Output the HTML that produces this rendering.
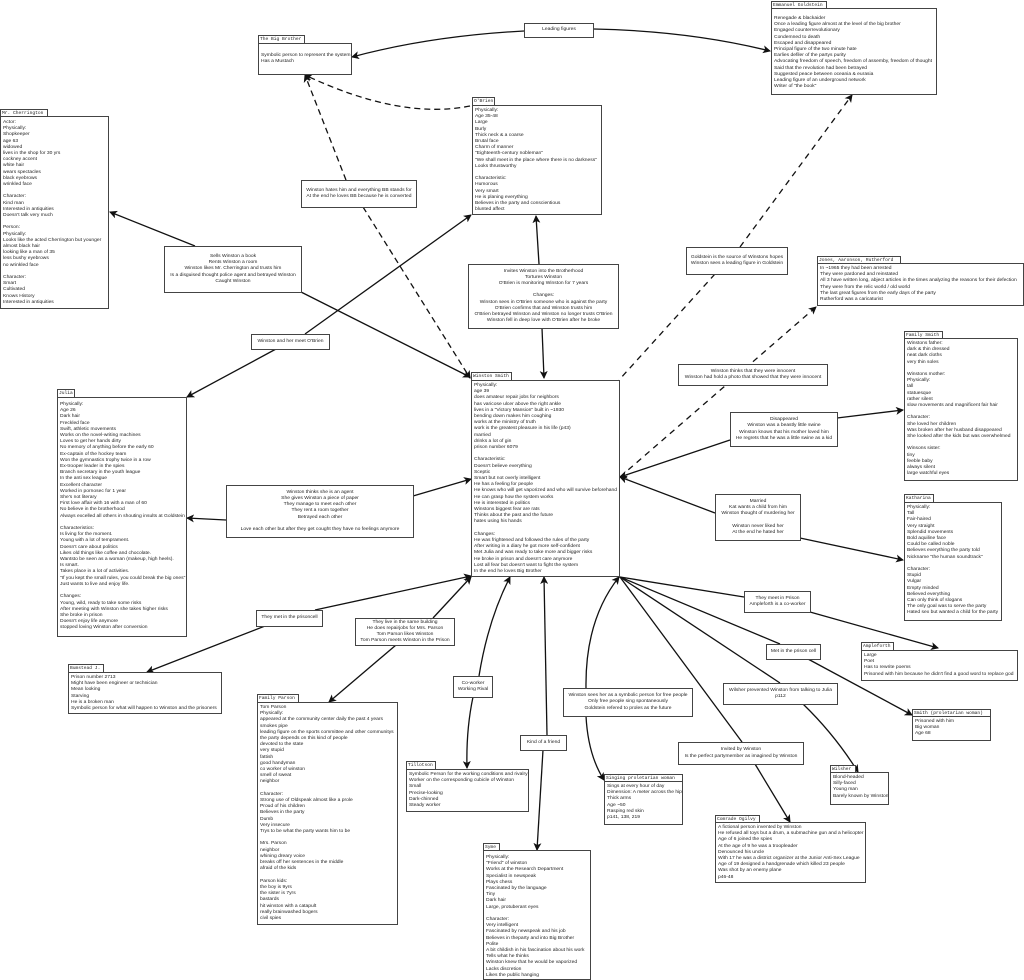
<!DOCTYPE html>
<html><head><meta charset="utf-8"><style>
html,body{margin:0;padding:0;background:#fff;}
body{width:1024px;height:980px;position:relative;overflow:hidden;font-family:"Liberation Sans",sans-serif;color:#222;}
.b{position:absolute;border:1px solid #444;background:#fff;font-size:4.95px;line-height:6.2px;padding:2px 1px 0 2px;box-sizing:border-box;white-space:pre;overflow:hidden;}
.t{position:absolute;border:1px solid #444;border-bottom:none;background:#fff;font-family:"Liberation Mono",monospace;font-size:4.6px;line-height:7px;padding:0 1px;box-sizing:border-box;white-space:pre;overflow:hidden;}
.l{position:absolute;border:1px solid #444;background:#fff;font-size:4.95px;line-height:6.2px;text-align:center;box-sizing:border-box;white-space:pre;display:flex;align-items:center;justify-content:center;}
svg{position:absolute;left:0;top:0;}
</style></head><body>
<svg width="1024" height="980" viewBox="0 0 1024 980">
<defs><marker id="a" markerWidth="8" markerHeight="8" refX="7" refY="4" orient="auto" markerUnits="userSpaceOnUse"><path d="M0,0 L8,4 L0,8 L2,4 z" fill="#111"/></marker></defs>
<g fill="none" stroke="#111" stroke-width="1.3">
<path d="M524,31 Q430,36 352,57" marker-end="url(#a)"/>
<path d="M594,29 Q690,31 770,51" marker-end="url(#a)"/>
<path d="M470,106 Q400,120 305,75" stroke-dasharray="6,4" marker-end="url(#a)"/>
<path d="M346,180 L305,75" stroke-dasharray="6,4" marker-end="url(#a)"/>
<path d="M363,207 L470,378" stroke-dasharray="6,4" marker-end="url(#a)"/>
<path d="M195,246 L110,212" marker-end="url(#a)"/>
<path d="M301,292 L470,377" marker-end="url(#a)"/>
<path d="M305,334 L471,215" marker-end="url(#a)"/>
<path d="M276,349 L187,397" marker-end="url(#a)"/>
<path d="M539,264 L536,216" marker-end="url(#a)"/>
<path d="M542,328 L544,378" marker-end="url(#a)"/>
<path d="M740,247 L852,95" stroke-dasharray="6,5" marker-end="url(#a)"/>
<path d="M715,274 L619,380" stroke-dasharray="6,5"/>
<path d="M620,477 L816,307" stroke-dasharray="6,5" marker-end="url(#a)"/>
<path d="M837,418 L903,410" marker-end="url(#a)"/>
<path d="M730,440 L620,477" marker-end="url(#a)"/>
<path d="M715,513 L620,477" marker-end="url(#a)"/>
<path d="M800,538 L903,560" marker-end="url(#a)"/>
<path d="M226,520 L187,518" marker-end="url(#a)"/>
<path d="M413,496 L471,479" marker-end="url(#a)"/>
<path d="M315,610 L471,576" marker-end="url(#a)"/>
<path d="M265,626 L147,672" marker-end="url(#a)"/>
<path d="M433,618 L471,577" marker-end="url(#a)"/>
<path d="M396,645 L329,702" marker-end="url(#a)"/>
<path d="M479,676 Q488,620 510,577" marker-end="url(#a)"/>
<path d="M473,697 Q466,730 467,768" marker-end="url(#a)"/>
<path d="M547,735 L544,577" marker-end="url(#a)"/>
<path d="M543,750 L537,850" marker-end="url(#a)"/>
<path d="M586,688 Q585,620 619,577" marker-end="url(#a)"/>
<path d="M586,716 Q588,755 604,780" marker-end="url(#a)"/>
<path d="M742,742 L620,577"/>
<path d="M755,764 L790,822" marker-end="url(#a)"/>
<path d="M780,683 L620,577"/>
<path d="M803,704 Q835,735 858,772" marker-end="url(#a)"/>
<path d="M780,644 L620,577"/>
<path d="M808,659 L912,715" marker-end="url(#a)"/>
<path d="M744,597 L620,577"/>
<path d="M810,612 L938,648" marker-end="url(#a)"/>
</g></svg>

<div class="t" style="left:258px;top:35px;width:47px;height:8px">The Big Brother</div>
<div class="b" style="left:258px;top:43px;width:94px;height:32px;padding-top:9px">Symbolic person to represent the system
Has a Mustach</div>

<div class="l" style="left:524px;top:23px;width:70px;height:15px">Leading figures</div>

<div class="t" style="left:771px;top:1px;width:56px;height:8px">Emmanuel Goldstein</div>
<div class="b" style="left:771px;top:8px;width:166px;height:87px;padding-top:7px">Renegade &amp; blackaider
Once a leading figure almost at the level of the big brother
Engaged counterrevolutionary
Condemned to death
Escaped and disappeared
Principal figure of the two minute hate
Earlies defiler of the partys purity
Advocating freedom of speech, freedom of assemby, freedom of thought
Said that the revolution had been betrayed
Suggested peace between oceania &amp; eurasia
Leading figure of an underground network
Writer of "the book"</div>

<div class="t" style="left:472px;top:97px;width:23px;height:8px">O'Brien</div>
<div class="b" style="left:472px;top:105px;width:130px;height:110px">Physically:
Age 35-48
Large
Burly
Thick neck &amp; a coarse
Brutal face
Charm of manner
"Eighteenth-century nobleman"
"We shall meet in the place where there is no darkness"
Looks thrustworthy

Characteristic:
Humorous
Very smart
He is planing everything
Believes in the party and conscientious
blunted affect</div>

<div class="t" style="left:0px;top:109px;width:48px;height:8px">Mr. Cherrington</div>
<div class="b" style="left:0px;top:116px;width:109px;height:193px;padding-top:3px">Actor:
Physically:
Shopkeeper
age 63
widowed
lives in the shop for 30 yrs
cockney accent
white hair
wears spectacles
black eyebrows
wrinkled face

Character:
Kind man
Interested in antiquities
Doesn't talk very much

Person:
Physically:
Looks like the acted Cherrington but younger
almost black hair
looking like a man of 35
less bushy eyebrows
no wrinkled face

Character:
Smart
Cultivated
Knows History
Interested in antiquities</div>

<div class="l" style="left:301px;top:180px;width:116px;height:28px">Winston hates him and everything BB stands for
At the end he loves BB because he is converted</div>

<div class="l" style="left:164px;top:246px;width:138px;height:47px">Sells Winston a book
Rents Winston a room
Winston likes Mr. Cherrington and trusts him
Is a disguised thought police agent and betrayed Winston
Caught Winston</div>

<div class="l" style="left:468px;top:264px;width:151px;height:65px">Invites Winston into the Brotherhood
Tortures Winston
O'Brien is monitoring Winston for 7 years

Changes:
Winston sees in O'Brien someone who is against the party
O'Brien confirms that and Winston trusts him
O'Brien betrayed Winston and Winston no longer trusts O'Brien
Winston fell in deep love with O'Brien after he broke</div>

<div class="l" style="left:686px;top:247px;width:102px;height:28px">Goldstein is the source of Winstons hopes
Winston sees a leading figure in Goldstein</div>

<div class="t" style="left:817px;top:256px;width:84px;height:8px">Jones, Aaronson, Rutherford</div>
<div class="b" style="left:817px;top:263px;width:207px;height:43px">In ~1965 they had been arrested
They were pardoned and reinstated
All 3 have written long, abject articles in the times analyzing the reasons for their defection
They were from the relic world / old world
The last great figures from the early days of the party
Rutherford was a caricaturist</div>

<div class="l" style="left:251px;top:334px;width:79px;height:16px">Winston and her meet O'Brien</div>

<div class="t" style="left:57px;top:389px;width:18px;height:9px">Julia</div>
<div class="b" style="left:57px;top:397px;width:130px;height:240px;padding-top:4px">Physically:
Age 26
Dark hair
Freckled face
Swift, athletic movements
Works on the novel-writing machines
Loves to get her hands dirty
No memory of anything before the early 60
Ex-captain of the hockey team
Won the gymnastics trophy twice in a row
Ex-trooper leader in the spies
Branch secretary in the youth league
In the anti sex league
Excellent character
Worked in pornosec for 1 year
She's not literary
First love affair with 16 with a man of 60
No believe in the brotherhood
Always excelled all others in shouting insults at Goldstein

Characteristics:
Is living for the moment.
Young with a lot of temprament.
Doesn't care about politics
Likes old things like coffee and chocolate.
Wantsto be seen as a woman (makeup, high heels).
Is smart.
Takes place in a lot of activities.
"If you kept the small rules, you could break the big ones"
Just wants to live and enjoy life.

Changes:
Young, wild, ready to take some risks
After meeting with Winston she takes higher risks
She broke in prison
Doesn't enjoy life anymore
stopped loving Winston after conversion</div>

<div class="t" style="left:471px;top:372px;width:41px;height:9px">Winston Smith</div>
<div class="b" style="left:471px;top:380px;width:149px;height:197px">Physically:
age 39
does amateur repair jobs for neighbors
has varicose ulcer above the right ankle
lives in a "Victory Mansion" built in ~1930
bending down makes him coughing
works at the ministry of truth
work is the greatest pleasure in his life (p43)
married
drinks a lot of gin
prison number 6079

Characteristic:
Doesn't believe everything
Sceptic
Smart but not overly intelligent
He has a feeling for people
He knows who will get vaporized and who will survive beforehand
He can grasp how the system works
He is interested in politics
Winstons biggest fear are rats
Thinks about the past and the future
hates using his hands

Changes:
He was frightened and followed the rules of the party
After writing in a diary he got more self-confident
Met Julia and was ready to take more and bigger risks
He broke in prison and doesn't care anymore
Lost all fear but doesn't want to fight the system
In the end he loves Big Brother</div>

<div class="l" style="left:678px;top:364px;width:150px;height:22px">Winston thinks that they were innocent
Winston had hold a photo that showed that they were innocent</div>

<div class="t" style="left:904px;top:331px;width:39px;height:8px">Family Smith</div>
<div class="b" style="left:904px;top:338px;width:114px;height:143px">Winstons father:
dark &amp; thin dressed
neat dark cloths
very thin soles

Winstons mother:
Physically:
tall
statuesque
rather silent
slow movements and magnificent fair hair

Character:
She loved her children
Was broken after her husband disappeared
She looked after the kids but was overwhelmed

Winsons sister:
tiny
feeble baby
always silent
large watchful eyes</div>

<div class="l" style="left:730px;top:412px;width:108px;height:35px">Disappeared
Winston was a beastly little swine
Winston knows that his mother loved him
He regrets that he was a little swine as a kid</div>

<div class="l" style="left:226px;top:485px;width:188px;height:53px">Winston thinks she is an agent
She gives Winston a piece of paper
They manage to meet each other
They rent a room together
Betrayed each other

Love each other but after they get cought they have no feelings anymore</div>

<div class="l" style="left:715px;top:494px;width:86px;height:47px">Married
Kat wants a child from him
Winston thought of murdering her

Winston never liked her
At the end he hated her</div>

<div class="t" style="left:904px;top:494px;width:30px;height:9px">Katharina</div>
<div class="b" style="left:904px;top:502px;width:98px;height:119px">Physically:
Tall
Fair-haired
Very straight
Splendid movements
Bold aquiline face
Could be called noble
Believes everything the party told
Nickname "the human soundtrack"

Character:
Stupid
Vulgar
Empty minded
Believed everything
Can only think of slogans
The only goal was to serve the party
Hated sex but wanted a child for the party</div>

<div class="l" style="left:744px;top:591px;width:67px;height:22px">They meet in Prison
Ampleforth is a co-worker</div>

<div class="t" style="left:861px;top:642px;width:33px;height:9px">Ampleforth</div>
<div class="b" style="left:861px;top:650px;width:157px;height:31px">Large
Poet
Has to rewrite poems
Prisoned with him because he didn't find a good word to replace god</div>

<div class="l" style="left:766px;top:644px;width:55px;height:16px">Met in the prison cell</div>
<div class="l" style="left:256px;top:610px;width:67px;height:17px">They met in the prisoncell</div>
<div class="l" style="left:355px;top:618px;width:100px;height:28px">They live in the same building
He does repairjobs for Mrs. Parson
Tom Parson likes Winston
Tom Parson meets Winston in the Prison</div>

<div class="t" style="left:68px;top:664px;width:36px;height:9px">Bumstead J.</div>
<div class="b" style="left:68px;top:672px;width:154px;height:42px">Prison number 2713
Might have been engineer or technician
Mean looking
Starving
He is a broken man
Symbolic person for what will happen to Winston and the prisoners</div>

<div class="t" style="left:257px;top:694px;width:42px;height:9px">Family Parson</div>
<div class="b" style="left:257px;top:702px;width:141px;height:223px">Tom Parson
Physically:
appeared at the community center daily the past 4 years
smokes pipe
leading figure on the sports committee and other communitys
the party depends on this kind of people
devoted to the state
very stupid
fattish
good handyman
co worker of winston
smell of sweat
neighbor

Character:
Strong use of Oldspeak almost like a prole
Proud of his children
Believes in the party
Dumb
Very insecure
Trys to be what the party wants him to be

Mrs. Parson
neighbor
whining dreary voice
breaks off her sentences in the middle
afraid of the kids

Parson kids:
the boy is 9yrs
the sister is 7yrs
bastards
hit winston with a catapult
really brainwashed bogers
civil spies</div>

<div class="l" style="left:453px;top:676px;width:40px;height:22px">Co-worker
Working Rival</div>

<div class="t" style="left:406px;top:761px;width:30px;height:9px">Tillotson</div>
<div class="b" style="left:406px;top:769px;width:123px;height:43px">Symbolic Person for the working conditions and rivalry
Worker on the corresponding cubicle of Winston
Small
Precise-looking
Dark-chinned
Steady worker</div>

<div class="l" style="left:520px;top:735px;width:47px;height:16px">Kind of a friend</div>

<div class="t" style="left:483px;top:843px;width:17px;height:8px">Syme</div>
<div class="b" style="left:483px;top:850px;width:108px;height:130px;padding-top:4px">Physically:
"Friend" of winston
Works at the Research Department
Specialist in newspeak
Plays chess
Fascinated by the language
Tiny
Dark hair
Large, protuberant eyes

Character:
Very intelligent
Fascinated by newspeak and his job
Believes in theparty and into Big Brother
Polite
A bit childish in his fascination about his work
Tells what he thinks
Winston knew that he would be vaporized
Lacks discretion
Likes the public hanging</div>

<div class="l" style="left:563px;top:688px;width:130px;height:29px">Winston sees her as a symbolic person for free people
Only free people sing spontaneously
Goldstein refered to proles as the future</div>

<div class="t" style="left:604px;top:774px;width:79px;height:8px">Singing proletarian woman</div>
<div class="b" style="left:604px;top:781px;width:79px;height:44px">Sings at every hour of day
Dimension: A meter across the hips
Thick arms
Age ~50
Rasping red skin
p141, 138, 219</div>

<div class="l" style="left:723px;top:683px;width:115px;height:22px">Wilsher prevented Winston from talking to Julia
p112</div>

<div class="l" style="left:678px;top:742px;width:126px;height:23px">Invited by Winston
Is the perfect partymember as imagined by Winston</div>

<div class="t" style="left:830px;top:765px;width:26px;height:8px">Wilsher</div>
<div class="b" style="left:830px;top:772px;width:59px;height:33px">Blond-headed
Silly-faced
Young man
Barely known by Winston</div>

<div class="t" style="left:715px;top:815px;width:45px;height:8px">Comrade Ogilvy</div>
<div class="b" style="left:715px;top:822px;width:151px;height:61px">A fictional person invented by Winston
He refused all toys but a drum, a submachine gun and a helicopter
Age of 6 joined the spies
At the age of 9 he was a troopleader
Denounced his uncle
With 17 he was a district organizer at the Junior Anti-Sex League
Age of 19 designed a handgrenade which killed 23 people
Was shot by an enemy plane
p46-48</div>

<div class="t" style="left:912px;top:709px;width:79px;height:8px">Smith (proletarian woman)</div>
<div class="b" style="left:912px;top:716px;width:79px;height:25px">Prisoned with him
Big woman
Age 68</div>
</body></html>
